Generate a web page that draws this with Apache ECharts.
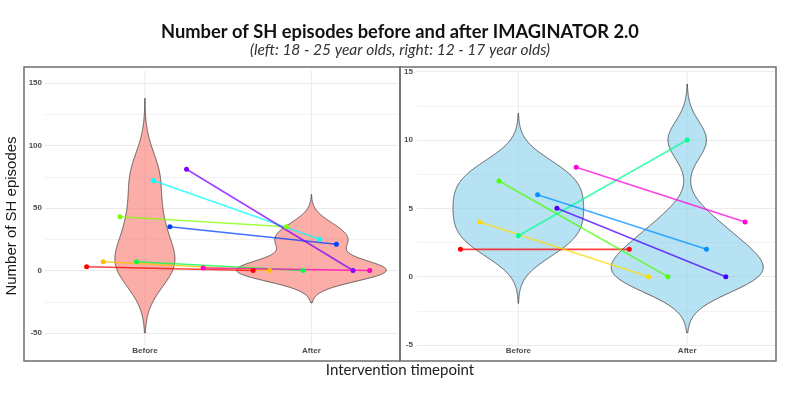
<!DOCTYPE html>
<html>
<head>
<meta charset="utf-8">
<script src="https://cdn.jsdelivr.net/npm/echarts@6/dist/echarts.min.js"></script>
<style>
  html, body { margin: 0; padding: 0; background: #fff; }
  #chart { width: 800px; height: 400px; }
</style>
</head>
<body>
<div id="chart"></div>
<script>
// categories on the x axis
const categories = ['Before', 'After'];

// left panel: 18 - 25 year olds (one entry per participant)
const leftBefore = [3, 7, 43, 7, 72, 35, 81, 2];
const leftAfter  = [0, 0, 35, 0, 25, 21, 0, 0];
const leftColors = ['#FF0000', '#FFBF00', '#80FF00', '#00FF40', '#00FFFF', '#0040FF', '#8000FF', '#FF00BF'];

// right panel: 12 - 17 year olds
const rightBefore = [2, 4, 7, 3, 6, 5, 8];
const rightAfter  = [2, 0, 0, 10, 2, 0, 4];
const rightColors = ['#FF0000', '#FFDB00', '#49FF00', '#00FF92', '#0092FF', '#4900FF', '#FF00DB'];

// axis limits, and the full panel height the vertical grid lines span
const leftLimits = [-50, 150];
const leftPanel = [-60, 160];
const rightLimits = [-5, 15];
const rightPanel = [-5, 15];

// bandwidth like R's bw.nrd0
function bwNrd0(x) {
    var n = x.length;
    var s = x.slice().sort(function (a, b) { return a - b; });
    var mean = x.reduce(function (a, b) { return a + b; }, 0) / n;
    var sd = Math.sqrt(x.reduce(function (a, b) { return a + (b - mean) * (b - mean); }, 0) / (n - 1));
    var q = function (p) {
        var h = (n - 1) * p, lo = Math.floor(h);
        var hi = Math.min(lo + 1, n - 1);
        return s[lo] + (h - lo) * (s[hi] - s[lo]);
    };
    var lo = Math.min(sd, (q(0.75) - q(0.25)) / 1.34);
    if (!lo) lo = sd || 1;
    return 0.9 * lo * Math.pow(n, -0.2);
}

// gaussian kde, trim = FALSE (3 bw past the data), cut at the axis limits
function density(x, limits) {
    var bw = bwNrd0(x);
    var from = Math.min.apply(null, x) - 3 * bw;
    var to = Math.max.apply(null, x) + 3 * bw;
    var out = [];
    for (var i = 0; i < 512; i++) {
        var y = from + (to - from) * i / 511;
        if (y < limits[0] || y > limits[1]) continue;
        var d = 0;
        x.forEach(function (v) { d += Math.exp(-0.5 * Math.pow((y - v) / bw, 2)); });
        out.push([y, d / (x.length * bw * Math.sqrt(2 * Math.PI))]);
    }
    return out;
}

// scale = "area": every violin shares the same max density, width 0.9
function violins(before, after, limits) {
    var dens = [density(before, limits), density(after, limits)];
    var maxD = 0;
    dens.forEach(function (p) { p.forEach(function (r) { maxD = Math.max(maxD, r[1]); }); });
    return dens.map(function (p) {
        return p.map(function (r) { return [r[0], 0.45 * r[1] / maxD]; });
    });
}

function violinSeries(idx, profiles, fill) {
    return {
        type: 'custom',
        xAxisIndex: idx, yAxisIndex: idx,
        data: [[1], [2]],
        encode: { x: 0 },
        z: 2,
        renderItem: function (params, api) {
            var prof = profiles[params.dataIndex];
            var pos = api.value(0);
            var pts = [];
            prof.forEach(function (r) { pts.push(api.coord([pos + r[1], r[0]])); });
            for (var i = prof.length - 1; i >= 0; i--) {
                pts.push(api.coord([pos - prof[i][1], prof[i][0]]));
            }
            return {
                type: 'polygon',
                shape: { points: pts },
                style: { fill: fill, stroke: '#3a3a3a', lineWidth: 0.8 }
            };
        }
    };
}

// vertical grid lines at the two categories, over the whole panel height
function vGridSeries(idx, panel) {
    return {
        type: 'custom',
        xAxisIndex: idx, yAxisIndex: idx,
        data: [[1], [2]],
        encode: { x: 0 },
        z: 1,
        silent: true,
        renderItem: function (params, api) {
            var a = api.coord([api.value(0), panel[0]]);
            var b = api.coord([api.value(0), panel[1]]);
            return {
                type: 'line',
                shape: { x1: a[0], y1: a[1], x2: b[0], y2: b[1] },
                style: { stroke: '#EBEBEB', lineWidth: 1 }
            };
        }
    };
}

// position_dodge(width = 0.8)
function pairSeries(idx, before, after, colors) {
    var n = before.length;
    return before.map(function (b, i) {
        var off = (i - (n - 1) / 2) * 0.8 / n;
        return {
            type: 'line',
            xAxisIndex: idx, yAxisIndex: idx,
            z: 3,
            data: [[1 + off, b], [2 + off, after[i]]],
            symbol: 'circle',
            symbolSize: 5,
            showSymbol: true,
            lineStyle: { color: colors[i], width: 1.6, opacity: 0.75 },
            itemStyle: { color: colors[i] }
        };
    });
}

function xAxisFor(idx, margin) {
    return {
        type: 'value', gridIndex: idx,
        min: 0.4, max: 2.52,
        axisLine: { show: false },
        axisTick: { show: false },
        splitLine: { show: false },
        axisLabel: {
            customValues: [1, 2],
            formatter: function (v) { return categories[Math.round(v) - 1]; },
            margin: margin,
            fontSize: 8, fontWeight: 'bold', color: '#4D4D4D',
            fontFamily: 'Liberation Sans'
        }
    };
}

function yAxisFor(idx, limits, interval, margin) {
    return {
        type: 'value', gridIndex: idx,
        min: limits[0], max: limits[1], interval: interval,
        axisLine: { show: false },
        axisTick: { show: false },
        minorTick: { show: false, splitNumber: 2 },
        splitLine: { show: true, lineStyle: { color: '#EBEBEB', width: 1 } },
        minorSplitLine: { show: true, lineStyle: { color: '#F2F2F2', width: 1 } },
        axisLabel: {
            margin: margin,
            fontSize: 8, fontWeight: 'bold', color: '#4D4D4D',
            fontFamily: 'Liberation Sans'
        }
    };
}

var leftProfiles = violins(leftBefore, leftAfter, leftLimits);
var rightProfiles = violins(rightBefore, rightAfter, rightLimits);

var chart = echarts.init(document.getElementById('chart'));
var option = {
    animation: false,
    backgroundColor: '#fff',
    grid: [
        { left: 45, top: 83, width: 353, height: 250 },
        { left: 417, top: 71.7, width: 358, height: 273.3 }
    ],
    xAxis: [xAxisFor(0, 14), xAxisFor(1, 2)],
    yAxis: [yAxisFor(0, leftLimits, 50, 3), yAxisFor(1, rightLimits, 5, 4)],
    graphic: [
        { type: 'rect', shape: { x: 24, y: 67, width: 376, height: 294 },
          style: { fill: 'none', stroke: '#6E6E6E', lineWidth: 1.5 }, z: 10 },
        { type: 'rect', shape: { x: 400, y: 67, width: 376, height: 294 },
          style: { fill: 'none', stroke: '#6E6E6E', lineWidth: 1.5 }, z: 10 },
        { type: 'text', left: 'center', top: 23,
          style: { text: 'Number of SH episodes before and after IMAGINATOR 2.0',
                   font: 'bold 18.3px Lato', fill: '#111' } },
        { type: 'text', left: 'center', top: 42,
          style: { text: '(left: 18 - 25 year olds, right: 12 - 17 year olds)',
                   font: 'italic 15.5px Lato', fill: '#333' } },
        { type: 'text', left: 'center', top: 363,
          style: { text: 'Intervention timepoint', font: '15px Lato', fill: '#222' } },
        { type: 'text', x: 4, y: 216, rotation: Math.PI / 2,
          style: { text: 'Number of SH episodes', font: '15px "Liberation Sans"',
                   fill: '#1a1a1a', align: 'center', verticalAlign: 'top' } }
    ],
    series: [
        vGridSeries(0, leftPanel),
        vGridSeries(1, rightPanel),
        violinSeries(0, leftProfiles, 'rgba(248,118,109,0.6)'),
        violinSeries(1, rightProfiles, 'rgba(135,206,235,0.6)')
    ].concat(pairSeries(0, leftBefore, leftAfter, leftColors))
     .concat(pairSeries(1, rightBefore, rightAfter, rightColors))
};
chart.setOption(option);
</script>
</body>
</html>
